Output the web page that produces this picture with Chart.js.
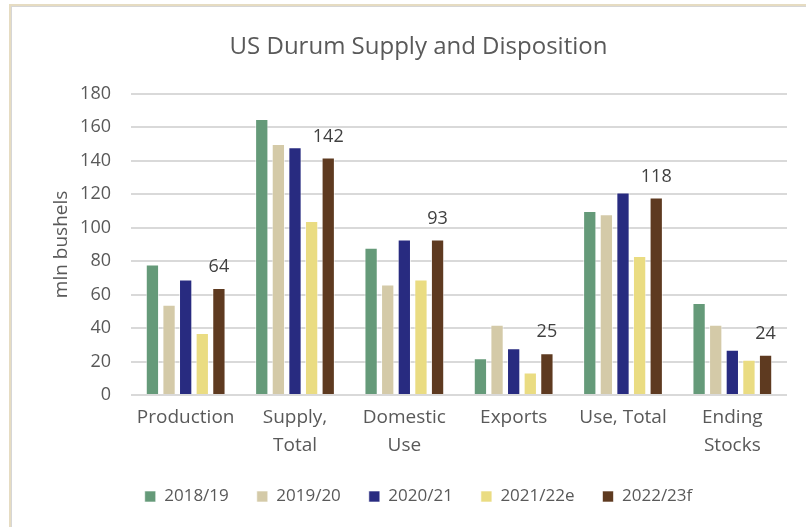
<!DOCTYPE html>
<html>
<head>
<meta charset="utf-8">
<script src="https://cdn.jsdelivr.net/npm/chart.js@4.4.1/dist/chart.umd.min.js"></script>
<style>
    body { margin: 0; background: #fff; }
    #wrap { position: relative; width: 806px; height: 527px; }
    #frame {
        position: absolute; left: 9px; top: 4px; right: 0; bottom: 0;
        border-top: 2px solid #e6dcc2; border-left: 2px solid #e6dcc2;
        box-shadow: inset 1px 1px 0 #d6d6d6;
    }
    canvas { position: absolute; left: 0; top: 0; }
</style>
</head>
<body>
<div id="wrap">
    <div id="frame"></div>
    <canvas id="chart" width="806" height="527"></canvas>
</div>
<script>
// Chart data
const categories = [["Production"], ["Supply,", "Total"], ["Domestic", "Use"], ["Exports"], ["Use, Total"], ["Ending", "Stocks"]];
const seriesNames = ["2018/19", "2019/20", "2020/21", "2021/22e", "2022/23f"];
const values2018 = [78, 165, 88, 22, 110, 55];
const values2019 = [54, 150, 66, 42, 108, 42];
const values2020 = [69, 148, 93, 28, 121, 27];
const values2021 = [37, 104, 69, 13.5, 83, 21];
const values2022 = [64, 142, 93, 25, 118, 24];
const seriesColors = ["#659a79", "#d4caa8", "#282b80", "#eadc82", "#5e3a20"];
const yTicks = [0, 20, 40, 60, 80, 100, 120, 140, 160, 180];

const textColor = "#595959";
const fontFamily = "'Open Sans', sans-serif";

// Labels above the last series only
const lastSeriesLabels = {
    id: "lastSeriesLabels",
    afterDatasetsDraw(chart) {
        const ctx = chart.ctx;
        const idx = chart.data.datasets.length - 1;
        const meta = chart.getDatasetMeta(idx);
        ctx.save();
        ctx.font = "18px " + fontFamily;
        ctx.fillStyle = "#404040";
        ctx.textAlign = "center";
        ctx.textBaseline = "middle";
        meta.data.forEach((bar, i) => {
            ctx.fillText(chart.data.datasets[idx].data[i], bar.x, bar.y - 21);
        });
        ctx.restore();
    }
};

const allValues = [values2018, values2019, values2020, values2021, values2022];

const ctx = document.getElementById("chart").getContext("2d");
new Chart(ctx, {
    type: "bar",
    data: {
        labels: categories,
        datasets: seriesNames.map((name, i) => ({
            label: name,
            data: allValues[i],
            backgroundColor: seriesColors[i],
            borderColor: "rgba(255,255,255,0.6)",
            borderWidth: 1,
            categoryPercentage: 0.76,
            barPercentage: 0.8
        }))
    },
    options: {
        responsive: false,
        animation: false,
        layout: { padding: { left: 50, right: 19, top: 0, bottom: 12 } },
        plugins: {
            title: {
                display: true,
                text: "US Durum Supply and Disposition",
                color: textColor,
                font: { family: fontFamily, size: 24, weight: "normal" },
                padding: { top: 33, bottom: 32 }
            },
            legend: {
                position: "bottom",
                labels: {
                    color: textColor,
                    font: { family: fontFamily, size: 17 },
                    boxWidth: 11,
                    boxHeight: 11,
                    padding: 28
                }
            },
            tooltip: { enabled: false }
        },
        scales: {
            x: {
                grid: { display: false },
                border: { display: false },
                ticks: {
                    color: textColor,
                    font: { family: fontFamily, size: 19, lineHeight: 1.5 },
                    padding: 0,
                    maxRotation: 0,
                    autoSkip: false
                }
            },
            y: {
                min: 0,
                max: 180,
                afterBuildTicks(scale) {
                    scale.ticks = yTicks.map(v => ({ value: v }));
                },
                afterFit(scale) {
                    scale.width = 81;
                },
                grid: { color: "#d9d9d9", lineWidth: 2, drawTicks: false },
                border: { display: false },
                ticks: {
                    color: textColor,
                    font: { family: fontFamily, size: 18 },
                    padding: 20
                },
                title: {
                    display: true,
                    text: "mln bushels",
                    color: textColor,
                    font: { family: fontFamily, size: 19 },
                    padding: 0
                }
            }
        }
    },
    plugins: [lastSeriesLabels]
});
</script>
</body>
</html>
